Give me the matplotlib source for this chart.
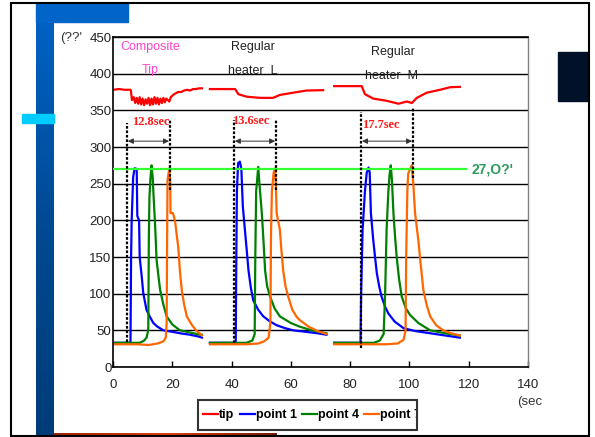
import numpy as np
import matplotlib
matplotlib.use('Agg')
import matplotlib.pyplot as plt
from matplotlib.patches import Rectangle
from matplotlib.colors import LinearSegmentedColormap

plt.rcParams['font.family'] = ['Liberation Sans', 'DejaVu Sans']

nan = np.nan

# 3 test runs, separated by nan
tip_x = [0, 2, 4, 6, 6.4, 7, 7.5, 8, 8.5, 9, 9.5, 10, 10.5, 11, 11.5, 12, 12.5, 13, 13.5, 14, 14.5, 15,
         15.5, 16, 16.5, 17, 17.5, 18, 19, 19.5, 20, 21, 22, 23, 24, 25, 26, 27, 28, 29, 30, nan,
         32.7, 41.2, 42.3, 45.1, 49.6, 54, 56.3, 60.7, 65.3, 70.9, nan,
         74.6, 83.9, 85, 87.8, 90.1, 92.3, 96.3, 99.1, 100.8, 102.5, 105.8, 110.3, 113.7, 117]
tip_y = [378, 379, 378, 378, 364, 368, 360, 367, 359, 368, 358, 366, 357, 365, 359, 367, 357, 366, 358, 368, 359, 367,
         358, 366, 360, 367, 361, 366, 362, 368, 370, 373, 375, 375, 377, 378, 377, 379, 379, 380, 380, nan,
         379, 379, 372, 368.6, 367, 367, 371, 374, 377, 377.5, nan,
         383, 383, 372, 366, 364.5, 363, 359, 362, 360, 367, 374, 378, 381.5, 382]

p1_x = [0, 5.9, 6.1, 6.3, 6.8, 7.3, 8.0, 8.2, 8.8, 9.0, 9.7, 10.2, 11.3, 12.5, 13.6, 15, 17, 20, 22.6, 26, 29.4, 30, nan,
        32.7, 41.4, 41.6, 41.8, 42.2, 42.8, 43.3, 43.8, 44.5, 45.1, 45.7, 46.5, 47.3, 49, 50.7, 53, 55.2, 58, 60.8, 65, 69, 72, nan,
        74.6, 83.5, 83.7, 84.2, 85, 85.6, 86.2, 86.6, 87, 87.8, 88.4, 89, 89.8, 90.6, 91.8, 92.9, 95, 98, 102, 107, 112, 117]
p1_y = [33, 33, 150, 200, 259, 271, 270, 206, 200, 150, 123, 101, 78, 68, 60, 55, 50, 48, 46, 44, 41, 40, nan,
        33, 33, 150, 240, 278, 280, 270, 219, 187, 160, 132, 108, 91, 78, 69, 62, 57, 53, 50, 48, 46, 44, nan,
        33, 33, 100, 187, 240, 265, 272, 265, 210, 173, 150, 128, 110, 96, 82, 73, 62, 53, 49, 46, 43, 40]

p4_x = [0, 9, 10.5, 11.3, 11.9, 12.1, 12.3, 12.6, 13.0, 13.4, 13.6, 14.2, 14.7, 15.3, 15.9, 17, 18.1, 20, 22.6, 26, 29.4, 30, nan,
        32.7, 45, 47, 47.8, 48.0, 48.3, 49.0, 49.4, 50.2, 50.8, 51.3, 52, 53, 54.5, 56.3, 60, 63, 67, 72, nan,
        74.6, 88, 90, 91.3, 91.8, 92.3, 92.9, 93.3, 93.7, 94.1, 94.6, 95.2, 95.7, 96.5, 97.4, 98.8, 100.2, 103, 107, 112, 117]
p4_y = [33, 33, 36, 40, 50, 180, 232, 255, 275, 258, 240, 194, 146, 125, 105, 85, 69, 58, 50, 47, 44, 44, nan,
        33, 33, 36, 45, 150, 240, 273, 250, 210, 170, 132, 110, 96, 80, 69, 60, 55, 50, 46, nan,
        33, 33, 36, 45, 100, 187, 240, 262, 275, 255, 210, 175, 150, 120, 96, 80, 71, 60, 50, 46, 43]

p7_x = [0, 8, 12, 15, 17, 17.8, 18.1, 18.3, 18.4, 19.0, 19.3, 19.4, 20.2, 20.9, 21.5, 22.0, 22.6, 23.2, 24.0, 24.9, 26.5, 28, 30, nan,
        32.7, 45, 49, 51, 52.5, 53.1, 53.3, 53.6, 54.2, 54.7, 55.0, 55.2, 56.3, 56.8, 57.4, 58.2, 59.1, 60.5, 62, 63, 66, 69, 72, nan,
        74.6, 92, 96, 98, 98.7, 98.9, 99.3, 99.6, 100.8, 101.3, 101.9, 103, 103.8, 104.7, 105.8, 107, 109, 111.4, 114, 117]
p7_y = [31, 31, 30, 32, 35, 40, 60, 200, 255, 271, 250, 210, 210, 200, 180, 164, 130, 105, 85, 69, 58, 50, 43, nan,
        31, 31, 32, 35, 40, 60, 180, 240, 265, 271, 240, 210, 187, 160, 132, 110, 96, 78, 68, 64, 55, 49, 45, nan,
        31, 31, 32, 37, 50, 150, 240, 264, 275, 250, 210, 173, 140, 105, 85, 69, 57, 50, 46, 43]

# heat-up intervals
gap_left = [4.7, 40.8, 83.7]
gap_right = [19.2, 55.0, 101.2]
left_top = [333, 337, 348]
left_bottom = [34, 33, 26]
right_top = [337, 338, 355]
right_bottom = [241, 241, 258]
gap_labels = ['12.8sec', '13.6sec', '17.7sec']
gap_label_x = [12.8, 46.5, 90.3]
gap_label_y = [334, 335, 330]
arrow_y = 308

limit_y = 270
limit_end = 119
limit_label = "27,O?'"

xticks = [0, 20, 40, 60, 80, 100, 120, 140]
yticks = [0, 50, 100, 150, 200, 250, 300, 350, 400, 450]

W, H = 595, 437
fig = plt.figure(figsize=(W / 100, H / 100), dpi=100)
fig.patch.set_facecolor('white')


def fx(px):
    return px / W


def fy(py):
    return 1 - py / H


# slide decoration
blue = LinearSegmentedColormap.from_list('b', ['#0064C8', '#004A94', '#003C78'])
bax = fig.add_axes([fx(36), 0, fx(18), 1 - 3 / H])
bax.imshow(np.linspace(0, 1, 100).reshape(-1, 1), cmap=blue, aspect='auto')
bax.axis('off')
fig.patches.append(Rectangle((fx(36), fy(22)), fx(92), 19 / H, transform=fig.transFigure,
                             color='#0064C8', zorder=0))
fig.patches.append(Rectangle((fx(22), fy(123)), fx(32), 9 / H, transform=fig.transFigure,
                             color='#00CCFF', zorder=5))
fig.patches.append(Rectangle((fx(558), fy(101)), fx(30), 49 / H, transform=fig.transFigure,
                             color='#011228', zorder=0))
red = LinearSegmentedColormap.from_list('r', ['#9A2408', '#E04010', '#7A1A08'])
rax = fig.add_axes([fx(54), fy(436), fx(223), 3 / H])
rax.imshow(np.linspace(0, 1, 100).reshape(1, -1), cmap=red, aspect='auto')
rax.axis('off')
fig.patches.append(Rectangle((fx(11), fy(436)), fx(578), 433 / H, transform=fig.transFigure,
                             fill=False, ec='black', lw=1.5, zorder=6))

ax = fig.add_axes([fx(113), fy(367), fx(415), 330 / H])
ax.set_xlim(0, 140)
ax.set_ylim(0, 450)

ax.plot(tip_x, tip_y, color='#FF0000', lw=1.6, label='tip')
ax.plot(p1_x, p1_y, color='#0000FF', lw=1.6, label='point 1')
ax.plot(p4_x, p4_y, color='#008000', lw=1.6, label='point 4')
ax.plot(p7_x, p7_y, color='#FF6600', lw=1.6, label='point 7')

ax.plot([0, limit_end], [limit_y, limit_y], color='#33FF33', lw=1.6, zorder=3)
ax.text(limit_end + 2, limit_y, limit_label, color='#2E9B5E', fontsize=10, fontweight='bold',
        va='center', ha='left', clip_on=False)

for i in range(3):
    ax.plot([gap_left[i]] * 2, [left_bottom[i], left_top[i]], color='black', lw=1.6, ls=(0, (1.2, 0.8)), zorder=4)
    ax.plot([gap_right[i]] * 2, [right_bottom[i], right_top[i]], color='black', lw=1.6, ls=(0, (1.2, 0.8)), zorder=4)
    ax.annotate('', xy=(gap_right[i] - 0.3, arrow_y), xytext=(gap_left[i] + 0.3, arrow_y),
                arrowprops=dict(arrowstyle='<|-|>', color='#333333', lw=0.7, mutation_scale=8,
                                shrinkA=0, shrinkB=0))
    ax.text(gap_label_x[i], gap_label_y[i], gap_labels[i], color='#FF1A1A', fontsize=9,
            fontweight='bold', family=['Liberation Serif', 'DejaVu Serif'], ha='center', va='center')

ax.text(12.5, 436, 'Composite', color='#FF44CC', fontsize=9, ha='center', va='center')
ax.text(12.5, 405, 'Tip', color='#FF44CC', fontsize=9, ha='center', va='center')
ax.text(47.1, 436, 'Regular', color='#222222', fontsize=9, ha='center', va='center')
ax.text(47.2, 403, 'heater  L', color='#222222', fontsize=9, ha='center', va='center')
ax.text(94.3, 429, 'Regular', color='#222222', fontsize=9, ha='center', va='center')
ax.text(94.0, 397, 'heater  M', color='#222222', fontsize=9, ha='center', va='center')

ax.set_xticks(xticks)
ax.set_yticks(yticks)
ax.yaxis.grid(True, color='black', lw=1)
ax.set_axisbelow(True)
ax.tick_params(axis='y', length=0, pad=1, labelsize=9.5, labelcolor='#222222')
ax.tick_params(axis='x', direction='in', length=4, width=1, pad=9, labelsize=9.5, labelcolor='#222222')
for s in ['left', 'bottom', 'top']:
    ax.spines[s].set_color('black')
    ax.spines[s].set_linewidth(1.2)
ax.spines['right'].set_color('#808080')
ax.spines['right'].set_linewidth(1)

fig.text(fx(60), fy(38), "(??'", fontsize=9.5, color='#333333', va='center', ha='left')
fig.text(fx(517), fy(402), '(sec', fontsize=9.5, color='#333333', va='center', ha='left')

leg = ax.legend(loc='center left', bbox_to_anchor=(fx(203), fy(415)), bbox_transform=fig.transFigure,
                ncol=4, frameon=False, handlelength=1.2, handletextpad=0.1, columnspacing=0.4,
                borderpad=0, borderaxespad=0, prop={'weight': 'bold', 'size': 9})
box = Rectangle((fx(198), fy(430)), fx(219), 30 / H, transform=fig.transFigure,
                fill=False, ec='#333333', lw=1.5)
fig.patches.append(box)
leg.get_texts()[-1].set_clip_path(box)

fig.savefig('out.png', dpi=100)
